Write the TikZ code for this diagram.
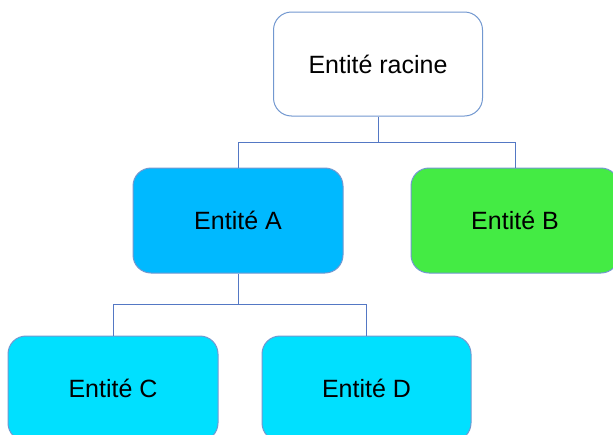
\documentclass[tikz,border=0pt]{standalone}
\usepackage{fontspec}
\setmainfont{Liberation Sans}
\definecolor{edgeblue}{RGB}{114,152,208}
\definecolor{linkblue}{RGB}{84,120,196}
\definecolor{fillA}{RGB}{0,185,255}
\definecolor{fillB}{RGB}{68,235,68}
\definecolor{fillCD}{RGB}{0,224,255}
\tikzset{
  entity/.style={draw=edgeblue, line width=1pt, rounded corners=18pt,
    rectangle, minimum height=105pt, inner sep=0pt,
    font=\fontsize{25}{30}\selectfont, text=black},
  link/.style={draw=linkblue, line width=1pt}
}
\begin{document}
\begin{tikzpicture}[x=1pt,y=-1pt]
  \useasboundingbox (0,0) rectangle (613,434);
  \clip (0,0) rectangle (613,434);
  \fill[white] (0,0) rectangle (613,434);
  % entities
  \node[entity, fill=white, minimum width=209pt, minimum height=104pt] (root) at (378,64) {Entité racine};
  \node[entity, fill=fillA, minimum width=210pt] (A) at (238,220.5) {Entité A};
  \node[entity, fill=fillB, minimum width=208pt] (B) at (515,220.5) {Entité B};
  \node[entity, fill=fillCD, minimum width=210pt] (C) at (113,388.5) {Entité C};
  \node[entity, fill=fillCD, minimum width=209pt] (D) at (366.5,388.5) {Entité D};
  % junction points of the tree links
  \coordinate (j1) at (root.south |- 0,142);
  \coordinate (j2) at (A.south |- 0,304.5);
  \draw[link] (root.south) -- (j1) -| (A.north);
  \draw[link] (j1) -| (B.north);
  \draw[link] (A.south) -- (j2) -| (C.north);
  \draw[link] (j2) -| (D.north);
\end{tikzpicture}
\end{document}
